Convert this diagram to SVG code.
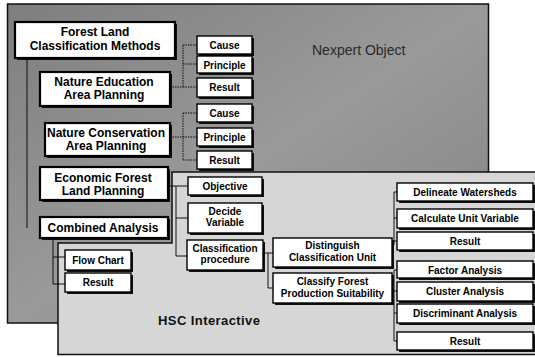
<svg xmlns="http://www.w3.org/2000/svg" width="535" height="357" viewBox="0 0 535 357">
  <style>
    .win-dark { fill: #8a8a8a; stroke: #111; stroke-width: 1.5; }
    .win-light { fill: #d6d6d6; stroke: #111; stroke-width: 1.5; }
    .shadow { fill: #111; }
    .big { fill: #fff; stroke: #000; stroke-width: 2.2; }
    .box { fill: #fff; stroke: #000; stroke-width: 1.4; }
    .tb { font-family: "Liberation Sans", Arial, sans-serif; font-weight: bold; font-size: 12px; fill: #000; text-anchor: middle; }
    .ts { font-family: "Liberation Sans", Arial, sans-serif; font-weight: bold; font-size: 10px; fill: #000; text-anchor: middle; }
    .link { fill: none; stroke: #111; stroke-width: 1; }
    .dot { fill: none; stroke: #111; stroke-width: 1; stroke-dasharray: 1.5 1; }
    .title { font-family: "Liberation Sans", Arial, sans-serif; }
  </style>
  <defs>
    <linearGradient id="darkShade" x1="0" y1="0" x2="1" y2="1">
      <stop offset="0" stop-color="#7e7e7e"/>
      <stop offset="0.5" stop-color="#9a9a9a"/>
      <stop offset="1" stop-color="#808080"/>
    </linearGradient>
  </defs>

  <!-- window backgrounds -->
  <g id="nexpert-window">
    <rect class="win-dark" x="7.5" y="4" width="481" height="319" style="fill:url(#darkShade)"/>
    <text class="title" x="312" y="55" font-size="14" fill="#2a2a2a">Nexpert Object</text>
  </g>
  <g id="hsc-window">
    <polygon class="win-light" points="58,243 172,243 172,172 540,172 540,354.5 58,354.5"/>
    <text class="title" x="158" y="325" font-size="13" font-weight="bold" fill="#111" textLength="102">HSC Interactive</text>
  </g>

  <!-- connectors -->
  <g id="connectors">
    <path class="link" d="M27,58 V228"/>
    <path class="dot" d="M170,87 H183 M183,45 V87 M183,45 H197 M183,64 H197 M183,87 H197"/>
    <path class="dot" d="M170,137 H183 M183,113 V160 M183,113 H197 M183,137 H197 M183,160 H197"/>
    <path class="link" d="M168,186 H188 M176,186 V256 M176,218 H188 M176,256 H187"/>
    <path class="link" d="M263,253 H273 M268,253 V288 H273"/>
    <path class="link" d="M392,245 H394 M394,192 V245 M394,192 H397 M394,218 H397 M394,241 H397"/>
    <path class="link" d="M392,288 H394 M394,270 V341 M394,270 H397 M394,291 H397 M394,313 H397 M394,341 H397"/>
    <path class="link" d="M53,238 V284 M53,257 H65 M53,284 H65"/>
  </g>

  <!-- left column -->
  <g id="forest-land">
    <rect class="shadow" x="17" y="24" width="160" height="36"/>
    <rect class="big" x="15" y="22" width="160" height="36"/>
    <text class="tb" x="95" y="36" font-size="13.5">Forest Land</text>
    <text class="tb" x="95" y="50" font-size="13.5">Classification Methods</text>
  </g>
  <g id="nature-education">
    <rect class="shadow" x="42" y="74" width="130" height="34"/>
    <rect class="big" x="40" y="72" width="130" height="34"/>
    <text class="tb" x="104" y="86">Nature Education</text>
    <text class="tb" x="104" y="99">Area  Planning</text>
  </g>
  <g id="nature-conservation">
    <rect class="shadow" x="47" y="125" width="125" height="33"/>
    <rect class="big" x="45" y="123" width="125" height="33"/>
    <text class="tb" x="106" y="137">Nature Conservation</text>
    <text class="tb" x="106" y="150">Area Planning</text>
  </g>
  <g id="economic-forest">
    <rect class="shadow" x="42" y="169" width="128" height="33"/>
    <rect class="big" x="40" y="167" width="128" height="33"/>
    <text class="tb" x="103" y="182">Economic Forest</text>
    <text class="tb" x="103" y="195">Land Planning</text>
  </g>
  <g id="combined-analysis">
    <rect class="shadow" x="42" y="219" width="128" height="21"/>
    <rect class="big" x="40" y="217" width="128" height="21"/>
    <text class="tb" x="103" y="232">Combined Analysis</text>
  </g>

  <!-- planning details -->
  <g id="cause-1">
    <rect class="shadow" x="199" y="38" width="55" height="18"/>
    <rect class="box" x="197" y="36" width="55" height="18"/>
    <text class="ts" x="224.5" y="49">Cause</text>
  </g>
  <g id="principle-1">
    <rect class="shadow" x="199" y="58" width="55" height="17"/>
    <rect class="box" x="197" y="56" width="55" height="17"/>
    <text class="ts" x="224.5" y="68.5">Principle</text>
  </g>
  <g id="result-1">
    <rect class="shadow" x="199" y="80" width="55" height="19"/>
    <rect class="box" x="197" y="78" width="55" height="19"/>
    <text class="ts" x="224.5" y="91">Result</text>
  </g>
  <g id="cause-2">
    <rect class="shadow" x="199" y="106" width="55" height="18"/>
    <rect class="box" x="197" y="104" width="55" height="18"/>
    <text class="ts" x="224.5" y="117">Cause</text>
  </g>
  <g id="principle-2">
    <rect class="shadow" x="199" y="130" width="55" height="18"/>
    <rect class="box" x="197" y="128" width="55" height="18"/>
    <text class="ts" x="224.5" y="141">Principle</text>
  </g>
  <g id="result-2">
    <rect class="shadow" x="199" y="153" width="55" height="18"/>
    <rect class="box" x="197" y="151" width="55" height="18"/>
    <text class="ts" x="224.5" y="164">Result</text>
  </g>

  <!-- economic planning steps -->
  <g id="objective">
    <rect class="shadow" x="190" y="179" width="74" height="18"/>
    <rect class="box" x="188" y="177" width="74" height="18"/>
    <text class="ts" x="225" y="190">Objective</text>
  </g>
  <g id="decide-variable">
    <rect class="shadow" x="190" y="205" width="74" height="30"/>
    <rect class="box" x="188" y="203" width="74" height="30"/>
    <text class="ts" x="225" y="215">Decide</text>
    <text class="ts" x="225" y="226">Variable</text>
  </g>
  <g id="classification-procedure">
    <rect class="shadow" x="189" y="242" width="76" height="30"/>
    <rect class="box" x="187" y="240" width="76" height="30"/>
    <text class="ts" x="225" y="252">Classification</text>
    <text class="ts" x="225" y="263">procedure</text>
  </g>
  <g id="distinguish-unit">
    <rect class="shadow" x="275" y="240" width="119" height="29"/>
    <rect class="box" x="273" y="238" width="119" height="29"/>
    <text class="ts" x="332.5" y="249">Distinguish</text>
    <text class="ts" x="332.5" y="261">Classification Unit</text>
  </g>
  <g id="classify-forest">
    <rect class="shadow" x="275" y="275" width="119" height="30"/>
    <rect class="box" x="273" y="273" width="119" height="30"/>
    <text class="ts" x="332.5" y="285">Classify Forest</text>
    <text class="ts" x="332.5" y="297">Production Suitability</text>
  </g>

  <!-- classification unit steps -->
  <g id="delineate-watersheds">
    <rect class="shadow" x="399" y="185" width="136" height="18"/>
    <rect class="box" x="397" y="183" width="136" height="18"/>
    <text class="ts" x="465" y="196">Delineate Watersheds</text>
  </g>
  <g id="calculate-unit-variable">
    <rect class="shadow" x="399" y="211" width="136" height="19"/>
    <rect class="box" x="397" y="209" width="136" height="19"/>
    <text class="ts" x="465" y="222">Calculate Unit Variable</text>
  </g>
  <g id="result-3">
    <rect class="shadow" x="399" y="234" width="136" height="18"/>
    <rect class="box" x="397" y="232" width="136" height="18"/>
    <text class="ts" x="465" y="245">Result</text>
  </g>

  <!-- suitability steps -->
  <g id="factor-analysis">
    <rect class="shadow" x="399" y="263" width="136" height="17"/>
    <rect class="box" x="397" y="261" width="136" height="17"/>
    <text class="ts" x="465" y="273.5">Factor Analysis</text>
  </g>
  <g id="cluster-analysis">
    <rect class="shadow" x="399" y="284" width="136" height="19"/>
    <rect class="box" x="397" y="282" width="136" height="19"/>
    <text class="ts" x="465" y="295">Cluster Analysis</text>
  </g>
  <g id="discriminant-analysis">
    <rect class="shadow" x="399" y="306" width="136" height="19"/>
    <rect class="box" x="397" y="304" width="136" height="19"/>
    <text class="ts" x="465" y="317">Discriminant Analysis</text>
  </g>
  <g id="result-4">
    <rect class="shadow" x="399" y="334" width="136" height="18"/>
    <rect class="box" x="397" y="332" width="136" height="18"/>
    <text class="ts" x="465" y="345">Result</text>
  </g>

  <!-- combined analysis outputs -->
  <g id="flow-chart">
    <rect class="shadow" x="67" y="252" width="66" height="20"/>
    <rect class="box" x="65" y="250" width="66" height="20"/>
    <text class="ts" x="98" y="264">Flow Chart</text>
  </g>
  <g id="result-5">
    <rect class="shadow" x="67" y="275" width="66" height="19"/>
    <rect class="box" x="65" y="273" width="66" height="19"/>
    <text class="ts" x="98" y="286">Result</text>
  </g>
</svg>
